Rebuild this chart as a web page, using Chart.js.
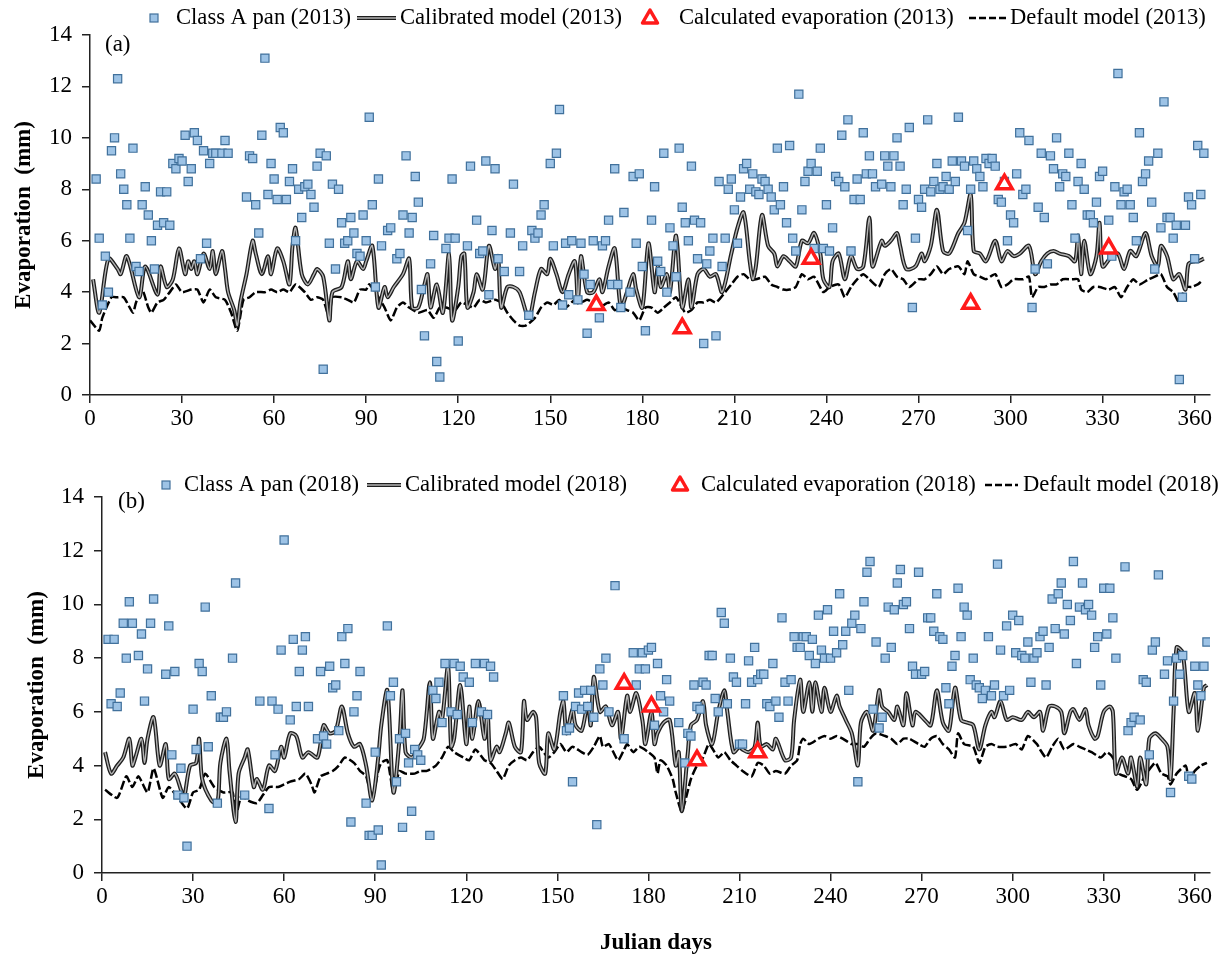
<!DOCTYPE html>
<html>
<head>
<meta charset="utf-8">
<script src="https://cdn.jsdelivr.net/npm/chart.js@4.4.0/dist/chart.umd.min.js"></script>
<style>
  body { margin: 0; background: #fff; }
  #wrap { position: relative; width: 1231px; height: 962px; }
  #wrap canvas { position: absolute; left: 0; }
</style>
</head>
<body>
<div id="wrap">
  <canvas id="chart-a" width="1231" height="445" style="top:0px"></canvas>
  <canvas id="chart-b" width="1231" height="507" style="top:455px"></canvas>
</div>
<script>
// ---- 2013 : [julian day, evaporation mm] ----
var pan2013 = [[2,8.4],[3,6.1],[4,3.5],[5,5.4],[6,4.0],[7,9.5],[8,10.0],[9,12.3],[10,8.6],[11,8.0],
  [12,7.4],[13,6.1],[14,9.6],[15,5.0],[16,4.8],[17,7.4],[18,8.1],[19,7.0],[20,6.0],[21,4.9],
  [22,6.6],[23,7.9],[24,6.7],[25,7.9],[26,6.6],[27,9.0],[28,8.8],[29,9.2],[30,9.1],[31,10.1],
  [32,8.3],[33,8.8],[34,10.2],[35,9.9],[36,5.3],[37,9.5],[38,5.9],[39,9.0],[40,9.4],[41,9.4],
  [43,9.4],[44,9.9],[45,9.4],[51,7.7],[52,9.3],[53,9.2],[54,7.4],[55,6.3],[56,10.1],[57,13.1],
  [58,7.8],[59,9.0],[60,8.4],[61,7.6],[62,10.4],[63,10.2],[64,7.6],[65,8.3],[66,8.8],[67,6.0],
  [68,8.0],[69,6.9],[70,8.1],[71,8.2],[72,7.8],[73,7.3],[74,8.9],[75,9.4],[76,1.0],[77,9.3],
  [78,5.9],[79,8.2],[80,4.9],[81,8.0],[82,6.7],[83,5.9],[84,6.0],[85,6.9],[86,6.3],[87,5.5],
  [88,5.4],[89,7.0],[90,6.0],[91,10.8],[92,7.4],[93,4.2],[94,8.4],[95,5.8],[97,6.4],[98,6.5],
  [100,5.3],[101,5.5],[102,7.0],[103,9.3],[104,6.3],[105,6.9],[106,8.5],[107,7.5],[108,4.1],[109,2.3],
  [111,5.1],[112,6.2],[113,1.3],[114,0.7],[116,5.7],[117,6.1],[118,8.4],[119,6.1],[120,2.1],[123,5.8],
  [124,8.9],[126,6.8],[127,5.5],[128,5.6],[129,9.1],[130,3.9],[131,6.4],[132,8.8],[133,5.3],[135,4.8],
  [137,6.3],[138,8.2],[140,4.8],[141,5.8],[143,3.1],[144,6.4],[145,6.1],[146,6.3],[147,7.0],[148,7.4],
  [150,9.0],[151,5.8],[152,9.4],[153,11.1],[154,3.5],[155,5.9],[156,3.9],[157,6.0],[159,3.7],[160,5.9],
  [161,4.7],[162,2.4],[163,4.3],[164,6.0],[166,3.0],[167,5.8],[168,6.0],[169,6.8],[170,4.3],[171,8.8],
  [172,4.3],[173,3.4],[174,7.1],[176,4.0],[177,8.5],[178,5.9],[179,8.6],[180,5.0],[181,2.5],[183,6.8],
  [184,8.1],[185,5.2],[186,4.8],[187,9.4],[188,4.0],[189,6.5],[190,5.8],[191,4.6],[192,9.6],[193,7.3],
  [194,6.7],[195,6.0],[196,8.9],[197,6.8],[198,5.3],[199,6.7],[200,2.0],[201,5.1],[202,5.6],[203,6.1],
  [204,2.3],[205,8.3],[206,5.0],[207,6.1],[208,8.0],[209,8.4],[210,7.2],[211,5.9],[212,7.7],[213,8.8],
  [214,9.0],[215,8.0],[216,8.6],[217,7.9],[218,7.8],[219,8.4],[220,8.3],[221,8.0],[222,7.7],[223,7.2],
  [224,9.6],[225,7.4],[226,8.1],[227,6.7],[228,9.7],[229,6.1],[230,5.6],[231,11.7],[232,7.2],[233,8.3],
  [234,8.7],[235,9.0],[236,5.7],[237,8.7],[238,9.6],[239,5.7],[240,7.4],[241,5.6],[242,6.5],[243,8.5],
  [244,8.3],[245,10.1],[246,8.1],[247,10.7],[248,5.6],[249,7.6],[250,8.4],[251,7.6],[252,10.2],[253,8.6],
  [254,9.3],[255,8.6],[256,8.1],[258,8.2],[259,9.3],[260,8.9],[261,8.1],[262,9.3],[263,10.0],[264,8.9],
  [265,7.4],[266,8.0],[267,10.4],[268,3.4],[269,6.1],[270,7.6],[271,7.3],[272,8.0],[273,10.7],[274,7.9],
  [275,8.3],[276,9.0],[277,8.0],[278,8.1],[279,8.5],[280,8.0],[281,9.1],[282,8.3],[283,10.8],[284,9.1],
  [285,8.9],[286,6.4],[287,8.0],[288,9.1],[289,8.8],[290,8.5],[291,8.1],[292,9.2],[293,9.0],[294,9.2],
  [295,8.9],[296,7.6],[297,7.5],[298,8.3],[299,6.0],[300,7.0],[301,6.7],[302,8.6],[303,10.2],[304,7.8],
  [305,8.0],[306,9.9],[307,3.4],[308,4.9],[309,7.3],[310,9.4],[311,6.9],[312,5.1],[313,9.3],[314,8.8],
  [315,10.0],[316,8.1],[317,8.6],[318,8.5],[319,9.4],[320,7.4],[321,6.1],[322,8.3],[323,9.0],[324,8.0],
  [325,7.0],[326,7.0],[327,6.7],[328,7.5],[329,8.5],[330,8.7],[332,6.8],[333,5.4],[334,8.1],[335,12.5],
  [336,7.4],[337,7.9],[338,8.0],[339,7.4],[340,6.9],[341,6.0],[342,10.2],[343,8.3],[344,8.6],[345,9.1],
  [346,7.5],[347,4.9],[348,9.4],[349,6.5],[350,11.4],[351,6.9],[352,6.9],[353,6.1],[354,6.6],[355,0.6],
  [356,3.8],[357,6.6],[358,7.7],[359,7.4],[360,5.3],[361,9.7],[362,7.8],[363,9.4]];

var calibrated2013 = [[1,4.5],[3,3.2],[6,5.3],[9,4.9],[10,4.7],[12,5.4],[16,3.8],[18,5.0],[22,3.9],[23,5.0],
  [25,4.2],[27,4.5],[29,5.7],[31,4.7],[32,5.2],[33,4.9],[34,5.2],[35,4.7],[37,5.5],[39,4.9],
  [40,5.6],[41,4.7],[43,5.6],[44,4.9],[45,4.0],[47,3.3],[48,2.7],[49,3.6],[51,4.7],[53,6.0],
  [54,5.5],[56,4.7],[58,5.4],[59,4.7],[61,5.7],[63,5.2],[65,4.3],[66,5.8],[67,6.5],[69,4.7],
  [71,4.3],[73,4.7],[74,4.9],[76,4.6],[78,2.9],[79,4.0],[82,4.2],[84,5.2],[85,4.5],[87,5.2],
  [89,4.9],[90,5.2],[92,5.8],[94,3.4],[96,4.2],[97,3.8],[99,4.2],[102,4.7],[104,5.3],[105,3.4],
  [107,3.4],[109,4.3],[110,4.7],[111,3.4],[113,4.3],[115,3.2],[117,5.5],[118,2.9],[120,4.2],[121,5.4],
  [122,5.5],[123,3.4],[125,4.0],[126,4.7],[128,4.1],[130,5.8],[132,4.9],[133,5.4],[134,3.4],[136,4.2],
  [138,4.2],[140,4.0],[143,3.0],[145,4.0],[147,4.9],[149,4.7],[150,5.3],[152,4.7],[154,4.0],[156,4.7],
  [158,5.2],[159,3.6],[160,5.4],[162,4.0],[164,4.0],[166,4.5],[167,4.0],[169,5.0],[171,5.7],[173,3.4],
  [175,4.0],[177,4.7],[178,4.1],[180,3.4],[182,5.9],[184,4.0],[185,5.0],[186,4.2],[188,4.7],[189,4.0],
  [191,6.2],[193,3.4],[195,4.5],[196,3.4],[198,4.7],[200,4.9],[202,4.6],[204,4.7],[206,4.0],[209,5.5],
  [211,6.5],[213,7.1],[215,5.2],[216,4.5],[217,5.0],[219,7.0],[221,5.8],[223,5.5],[224,5.0],[226,5.4],
  [228,5.2],[230,5.0],[232,6.0],[234,5.9],[236,6.3],[238,5.5],[239,4.5],[241,4.2],[242,5.2],[244,5.5],
  [246,4.5],[248,5.4],[250,4.9],[252,5.0],[254,6.9],[255,5.0],[258,6.0],[259,5.8],[261,6.0],[263,6.3],
  [264,5.8],[266,4.9],[269,5.0],[271,5.5],[272,5.2],[274,5.8],[276,7.2],[278,5.6],[280,5.5],[283,6.3],
  [285,6.7],[287,7.8],[288,5.6],[290,5.5],[292,5.2],[295,6.0],[297,5.2],[299,5.6],[301,5.4],[303,5.5],
  [306,5.8],[308,4.7],[310,5.2],[312,5.5],[314,5.6],[316,5.5],[319,5.4],[321,5.2],[322,6.2],[323,4.7],
  [324,6.0],[326,4.7],[328,5.4],[329,6.7],[330,5.0],[333,5.4],[335,5.5],[337,4.9],[339,5.6],[341,5.4],
  [344,6.3],[346,5.4],[348,5.0],[349,5.8],[351,5.4],[353,4.5],[355,4.7],[357,4.1],[358,5.1],[360,5.2],
  [361,5.2],[363,5.3]];

var default2013 = [[0,2.9],[3,2.5],[4,3.0],[7,3.8],[9,3.8],[11,3.8],[14,3.2],[15,3.6],[17,4.1],[19,3.4],
  [20,3.2],[22,3.6],[24,3.7],[26,4.0],[28,4.3],[30,4.0],[33,4.1],[35,4.1],[37,3.6],[39,4.1],
  [41,3.8],[44,3.7],[46,3.2],[48,2.5],[50,3.7],[52,3.8],[54,4.0],[57,4.0],[59,4.1],[61,4.0],
  [63,4.1],[65,4.0],[67,4.3],[70,4.0],[72,3.7],[74,3.8],[76,3.7],[78,3.0],[79,3.8],[82,3.8],
  [84,3.7],[86,3.6],[88,4.1],[90,4.1],[91,4.3],[94,3.8],[96,3.4],[98,2.9],[100,3.4],[102,3.6],
  [104,3.4],[107,3.2],[110,3.3],[112,3.0],[114,3.4],[116,3.4],[119,3.3],[121,3.6],[123,3.5],[125,3.4],
  [127,3.7],[129,3.6],[132,3.7],[134,3.6],[136,3.2],[138,2.9],[140,2.7],[142,2.7],[145,3.0],[147,3.4],
  [149,3.6],[151,3.5],[153,3.7],[155,3.4],[158,3.7],[160,3.6],[162,3.7],[164,3.6],[166,3.4],[169,3.6],
  [171,3.3],[173,3.4],[175,3.3],[177,3.2],[179,2.9],[181,3.4],[183,3.4],[185,3.2],[187,3.4],[189,3.6],
  [191,3.8],[194,3.2],[196,3.3],[198,3.6],[200,3.6],[202,3.7],[204,3.6],[207,4.0],[209,4.3],[211,4.6],
  [213,4.7],[215,4.5],[217,4.5],[220,4.6],[222,4.3],[224,4.2],[226,4.1],[228,4.1],[230,4.2],[232,4.7],
  [234,4.5],[236,4.6],[239,4.0],[241,4.2],[244,4.3],[246,3.8],[248,4.2],[250,4.5],[252,4.7],[254,4.5],
  [257,4.2],[259,4.7],[261,4.9],[263,4.6],[265,4.5],[267,4.2],[270,4.5],[272,4.5],[274,4.7],[276,5.0],
  [278,4.7],[280,4.9],[283,5.0],[285,4.7],[286,5.2],[288,4.7],[290,4.6],[292,4.5],[295,4.7],[297,4.2],
  [299,4.3],[301,4.5],[304,4.5],[306,4.6],[307,3.8],[309,4.2],[311,4.2],[313,4.3],[315,4.3],[317,4.5],
  [320,4.5],[322,4.5],[323,4.1],[325,4.0],[327,4.2],[329,4.2],[332,4.1],[334,4.2],[336,3.8],[338,4.2],
  [340,4.5],[342,4.3],[345,4.5],[347,4.6],[349,4.7],[351,4.2],[353,4.0],[355,3.6],[357,4.2],[359,4.2],
  [361,4.3],[362,4.4]];

var calculated2013 = [[165,3.5],[193,2.6],[235,5.3],[287,3.55],[298,8.2],[332,5.7]];

// ---- 2018 ----
var pan2018 = [[2,8.7],[3,6.3],[4,8.7],[5,6.2],[6,6.7],[7,9.3],[8,8.0],[9,10.1],[10,9.3],[12,8.1],
  [13,8.9],[14,6.4],[15,7.6],[16,9.3],[17,10.2],[21,7.4],[22,9.2],[23,4.4],[24,7.5],[25,2.9],
  [26,3.9],[27,2.8],[28,1.0],[30,6.1],[31,4.6],[32,7.8],[33,7.5],[34,9.9],[35,4.7],[36,6.6],
  [38,2.6],[39,5.8],[40,5.8],[41,6.0],[43,8.0],[44,10.8],[47,2.9],[52,6.4],[55,2.4],[56,6.4],
  [57,4.4],[58,6.1],[59,8.3],[60,12.4],[62,5.7],[63,8.7],[64,6.2],[65,7.5],[66,8.3],[67,8.8],
  [68,6.2],[71,5.0],[72,7.5],[73,5.1],[74,4.8],[75,7.7],[76,6.9],[77,7.0],[78,5.3],[79,8.8],
  [80,7.8],[81,9.1],[82,1.9],[83,6.0],[84,6.6],[85,7.5],[87,2.6],[88,1.4],[89,1.4],[90,4.5],
  [91,1.6],[92,0.3],[94,9.2],[95,6.6],[96,7.1],[97,3.4],[98,5.0],[99,1.7],[100,5.2],[101,4.1],
  [102,2.3],[103,4.6],[104,4.4],[105,4.2],[108,1.4],[109,6.8],[110,6.5],[111,7.1],[112,5.6],[113,7.8],
  [115,6.0],[116,7.8],[117,5.9],[118,7.7],[119,7.3],[121,7.1],[122,5.6],[123,7.8],[125,6.0],[126,7.8],
  [127,5.9],[128,7.7],[129,7.3],[152,6.6],[153,5.3],[154,5.4],[155,3.4],[156,6.2],[157,6.7],[158,6.1],
  [159,6.8],[160,6.2],[161,6.8],[162,5.8],[163,1.8],[164,7.6],[165,7.0],[166,8.0],[167,6.0],[169,10.7],
  [172,5.0],[175,8.2],[176,7.0],[177,7.6],[178,8.2],[179,7.6],[180,8.3],[181,8.4],[182,5.5],[183,7.8],
  [184,6.6],[185,6.0],[186,7.2],[187,6.4],[190,5.6],[192,4.1],[193,5.2],[194,5.1],[195,7.0],[196,6.2],
  [197,6.1],[198,7.1],[199,7.0],[200,8.1],[201,8.1],[202,6.5],[203,6.0],[204,9.7],[205,9.3],[206,6.3],
  [207,8.0],[208,7.3],[209,7.1],[210,4.8],[211,4.8],[212,6.3],[213,7.9],[214,7.1],[215,8.4],[216,7.2],
  [217,7.4],[218,7.4],[219,6.3],[220,6.2],[221,7.8],[222,6.4],[223,5.8],[224,9.5],[225,7.1],[226,6.4],
  [227,7.2],[228,8.8],[229,8.4],[230,8.4],[231,8.8],[232,8.8],[233,8.1],[234,8.7],[235,7.8],[236,9.6],
  [237,8.3],[238,8.0],[239,9.8],[240,8.0],[241,9.0],[242,8.2],[243,10.4],[244,8.5],[245,9.0],[246,6.8],
  [247,9.3],[248,9.6],[249,3.4],[250,9.1],[251,10.1],[252,11.2],[253,11.6],[254,6.1],[255,8.6],[256,5.4],
  [257,5.8],[258,8.0],[259,9.9],[260,8.4],[261,9.8],[262,10.8],[263,11.3],[264,10.0],[265,10.1],[266,9.1],
  [267,7.7],[268,7.4],[269,11.2],[270,7.4],[271,7.5],[272,9.5],[273,9.5],[274,9.0],[275,10.4],[276,8.8],
  [277,8.7],[278,6.9],[279,6.3],[280,7.7],[281,8.1],[282,10.6],[283,8.8],[284,9.9],[285,9.6],[286,7.2],
  [287,8.0],[288,7.0],[289,6.9],[290,6.5],[291,6.8],[292,8.8],[293,6.6],[294,7.0],[295,11.5],[296,8.3],
  [297,6.6],[298,9.2],[299,6.8],[300,9.6],[301,8.2],[302,9.4],[303,8.1],[304,8.0],[305,8.6],[306,7.1],
  [307,8.0],[308,8.2],[309,8.8],[310,9.0],[311,7.0],[312,8.4],[313,10.2],[314,9.1],[315,10.4],[316,10.8],
  [317,8.9],[318,10.0],[319,9.4],[320,11.6],[321,7.8],[322,9.9],[323,10.8],[324,9.8],[325,10.0],[326,9.6],
  [327,8.4],[328,8.8],[329,7.0],[330,10.6],[331,8.9],[332,10.6],[333,9.5],[334,8.0],[337,11.4],[338,5.3],
  [339,5.6],[340,5.8],[342,5.7],[343,7.2],[344,7.1],[345,4.4],[346,8.3],[347,8.6],[348,11.1],[350,7.4],
  [351,7.9],[352,3.0],[353,6.4],[354,8.0],[355,7.4],[356,8.1],[358,3.6],[359,3.5],[360,7.7],[361,7.0],
  [362,6.6],[363,7.7],[364,8.6]];

var calibrated2018 = [[1,4.5],[3,3.7],[5,4.0],[7,4.3],[9,5.0],[10,4.0],[11,4.3],[13,5.0],[14,4.1],[15,5.0],
  [17,5.8],[19,4.0],[21,4.8],[22,3.5],[24,3.7],[26,3.1],[27,2.8],[29,4.0],[31,4.1],[32,5.0],
  [33,3.5],[36,2.7],[38,2.6],[39,4.1],[41,5.0],[42,3.8],[44,1.9],[45,3.7],[47,4.3],[48,4.6],
  [50,3.2],[51,3.5],[53,3.1],[55,4.0],[57,3.8],[59,4.7],[60,4.3],[62,5.2],[64,5.1],[66,4.3],
  [68,4.5],[71,4.3],[73,5.5],[75,5.2],[77,5.3],[79,6.2],[81,5.2],[83,4.7],[85,4.8],[87,4.0],
  [89,2.7],[91,4.3],[92,5.5],[94,6.8],[96,3.0],[98,5.0],[99,6.8],[100,4.5],[102,4.3],[104,4.6],
  [106,5.0],[108,7.1],[109,5.0],[111,6.0],[112,5.7],[114,7.7],[115,4.7],[116,5.0],[118,7.0],[120,4.8],
  [121,6.2],[122,5.0],[124,6.4],[126,5.0],[127,6.0],[128,4.2],[130,4.7],[131,4.5],[133,5.2],[134,5.6],
  [136,4.7],[138,4.5],[139,6.4],[140,5.7],[142,6.0],[143,5.8],[144,4.1],[146,3.7],[147,5.2],[149,4.6],
  [151,6.0],[152,6.4],[153,5.2],[155,6.1],[156,5.5],[158,5.3],[160,6.3],[161,5.5],[162,7.3],[164,6.0],
  [166,6.2],[168,5.5],[170,6.0],[171,5.0],[173,6.6],[174,6.0],[176,6.7],[178,5.7],[179,4.8],[181,6.0],
  [182,4.8],[183,5.2],[185,5.6],[187,5.7],[189,4.0],[190,4.5],[191,2.3],[193,4.5],[194,5.5],[196,5.7],
  [198,6.4],[199,5.5],[201,4.8],[203,6.0],[205,6.8],[206,6.0],[208,4.5],[210,4.7],[211,4.6],[213,4.5],
  [215,4.7],[216,5.6],[217,4.7],[219,4.8],[221,4.6],[222,5.0],[225,4.2],[227,4.3],[228,5.7],[230,7.2],
  [231,6.0],[233,7.1],[234,6.0],[235,7.1],[237,6.0],[238,6.9],[240,6.0],[242,6.6],[243,6.2],[245,5.7],
  [247,5.2],[249,4.0],[250,5.6],[252,6.0],[254,5.3],[256,6.8],[257,6.2],[259,6.0],[261,5.7],[262,6.2],
  [264,5.5],[265,6.7],[267,5.5],[268,6.0],[271,5.7],[273,5.5],[275,6.8],[277,5.6],[279,5.3],[281,6.9],
  [283,5.7],[285,5.6],[287,5.5],[289,4.6],[291,5.5],[293,6.0],[294,5.8],[296,6.4],[298,5.7],[300,5.8],
  [303,5.7],[305,6.0],[307,5.8],[309,6.0],[310,5.3],[312,6.2],[314,6.2],[316,6.0],[317,5.2],[319,6.0],
  [320,6.1],[322,5.7],[324,6.1],[325,5.5],[327,5.0],[328,5.1],[330,6.0],[332,6.2],[333,6.0],[334,3.7],
  [336,4.3],[338,3.7],[339,4.3],[341,3.2],[342,4.3],[344,3.3],[345,5.0],[347,5.2],[349,5.0],[351,4.7],
  [352,3.5],[353,6.0],[354,8.4],[356,8.2],[358,6.0],[360,6.7],[361,5.3],[363,6.9],[364,7.0]];

var default2018 = [[1,3.1],[5,2.8],[8,3.6],[10,3.2],[12,3.6],[15,3.0],[17,3.9],[20,2.8],[22,3.2],[25,2.8],
  [28,2.4],[30,3.0],[32,3.1],[34,3.7],[37,3.2],[40,3.0],[43,3.0],[44,2.1],[46,2.9],[48,2.7],
  [51,2.6],[53,2.9],[55,3.2],[58,3.2],[60,3.3],[62,3.4],[65,3.5],[67,3.7],[69,3.3],[70,3.0],
  [72,3.6],[74,3.7],[76,3.8],[78,4.0],[80,4.3],[83,4.1],[85,3.8],[87,3.6],[89,2.8],[91,3.8],
  [92,4.1],[94,4.2],[96,3.0],[98,3.8],[100,3.7],[103,3.7],[105,3.8],[107,3.8],[110,4.0],[112,4.3],
  [114,4.7],[116,4.5],[119,4.3],[121,4.2],[123,4.6],[126,4.2],[128,4.1],[130,3.8],[132,3.5],[134,4.0],
  [136,4.2],[138,4.3],[140,4.2],[142,4.5],[144,4.7],[147,4.3],[149,4.5],[151,4.8],[153,4.5],[155,4.7],
  [158,4.5],[160,4.4],[162,4.7],[164,5.1],[165,4.7],[167,4.8],[170,4.2],[172,4.6],[173,4.8],[175,4.5],
  [177,4.7],[180,4.5],[182,4.3],[183,3.7],[184,4.2],[186,4.0],[188,3.5],[189,3.0],[191,2.3],[194,3.5],
  [196,4.0],[198,4.3],[200,4.8],[203,4.3],[205,4.5],[207,4.2],[209,4.0],[211,3.8],[214,3.6],[216,4.1],
  [218,4.0],[220,3.7],[222,3.8],[225,3.7],[227,4.0],[229,4.2],[230,4.8],[231,5.0],[233,4.8],[236,5.0],
  [238,5.1],[240,5.0],[242,5.1],[244,5.0],[247,4.8],[249,4.8],[251,4.7],[253,5.0],[255,5.2],[258,5.1],
  [260,5.0],[262,4.8],[264,5.0],[266,5.0],[269,4.8],[271,4.7],[273,5.0],[275,5.1],[277,4.8],[279,4.6],
  [281,4.3],[282,5.2],[284,4.8],[287,4.7],[289,4.1],[291,4.7],[293,4.8],[295,4.7],[298,4.7],[301,4.8],
  [303,4.6],[305,5.1],[308,4.8],[309,4.6],[311,4.3],[313,4.7],[315,5.0],[317,4.6],[320,4.8],[322,4.7],
  [324,4.6],[326,4.5],[329,4.3],[331,4.5],[333,4.3],[335,3.7],[337,3.6],[339,3.5],[341,3.1],[343,3.5],
  [344,3.7],[347,4.1],[349,3.7],[351,3.6],[352,3.3],[354,3.7],[357,4.0],[358,3.5],[360,3.8],[362,4.0],
  [364,4.1]];

var calculated2018 = [[172,7.05],[181,6.2],[196,4.2],[216,4.5]];

var dayTicks = [0, 30, 60, 90, 120, 150, 180, 210, 240, 270, 300, 330, 360];
var evapTicks = [0, 2, 4, 6, 8, 10, 12, 14];

var serif = '"Liberation Serif", "Times New Roman", serif';
var PAN_FILL = '#9dc3e6', PAN_EDGE = '#41719c', TRI_RED = '#ff1a1a';
var CAL_EDGE = '#1e1e1e', CAL_CORE = '#b4b4b4';

function toPoints(pairs) {
    return pairs.map(function(p) { return { x: p[0], y: p[1] }; });
}

// legend row + (a)/(b) label drawn straight on the canvas
var panelDecor = {
    id: 'panelDecor',
    afterDraw: function(chart, args, o) {
        var ctx = chart.ctx;
        var y = o.y;
        ctx.save();
        ctx.fillStyle = '#000';
        ctx.textBaseline = 'middle';
        ctx.textAlign = 'left';
        ctx.font = '23px ' + serif;
        ctx.fillText(o.label, o.labelX, o.labelY);

        // Class A pan
        ctx.fillStyle = PAN_FILL; ctx.strokeStyle = PAN_EDGE; ctx.lineWidth = 1.2;
        ctx.fillRect(o.square - 4, y - 4, 8, 8);
        ctx.strokeRect(o.square - 4, y - 4, 8, 8);
        // calibrated model (double line)
        ctx.beginPath(); ctx.moveTo(o.calLine[0], y); ctx.lineTo(o.calLine[1], y);
        ctx.strokeStyle = CAL_EDGE; ctx.lineWidth = 4; ctx.stroke();
        ctx.strokeStyle = CAL_CORE; ctx.lineWidth = 1.4; ctx.stroke();
        // calculated evaporation
        ctx.beginPath();
        ctx.moveTo(o.tri, y - 8); ctx.lineTo(o.tri + 7.5, y + 5); ctx.lineTo(o.tri - 7.5, y + 5); ctx.closePath();
        ctx.fillStyle = '#fff'; ctx.fill();
        ctx.strokeStyle = TRI_RED; ctx.lineWidth = 3.5; ctx.lineJoin = 'round'; ctx.stroke();
        // default model
        ctx.beginPath(); ctx.setLineDash([7, 3]);
        ctx.moveTo(o.defLine[0], y); ctx.lineTo(o.defLine[1], y);
        ctx.strokeStyle = '#000'; ctx.lineWidth = 2.5; ctx.stroke();
        ctx.setLineDash([]);

        ctx.fillStyle = '#000';
        ctx.font = '22.6px ' + serif;
        o.texts.forEach(function(t) { ctx.fillText(t[1], t[0], y); });
        ctx.restore();
    }
};

function makePanel(canvasId, p) {
    var calPoints = toPoints(p.cal);
    return new Chart(document.getElementById(canvasId), {
        type: 'scatter',
        data: {
            datasets: [
                {
                    label: 'Calculated evaporation',
                    data: toPoints(p.calc),
                    pointStyle: 'triangle',
                    pointRadius: 9,
                    backgroundColor: '#fff',
                    borderColor: TRI_RED,
                    borderWidth: 3.5,
                    order: 0
                },
                {
                    label: 'Class A pan',
                    data: toPoints(p.pan),
                    pointStyle: 'rect',
                    pointRadius: 5.8,
                    backgroundColor: PAN_FILL,
                    borderColor: PAN_EDGE,
                    borderWidth: 1.2,
                    order: 1
                },
                {
                    label: 'Calibrated model',
                    data: calPoints,
                    showLine: true,
                    borderColor: CAL_CORE,
                    borderWidth: 1.4,
                    pointRadius: 0,
                    tension: 0.3,
                    order: 2
                },
                {
                    label: 'Calibrated model edge',
                    data: calPoints,
                    showLine: true,
                    borderColor: CAL_EDGE,
                    borderWidth: 4,
                    pointRadius: 0,
                    tension: 0.3,
                    order: 3
                },
                {
                    label: 'Default model',
                    data: toPoints(p.def),
                    showLine: true,
                    borderColor: '#000',
                    borderWidth: 2.5,
                    borderDash: [9, 3],
                    pointRadius: 0,
                    tension: 0.2,
                    order: 4
                }
            ]
        },
        options: {
            responsive: false,
            animation: false,
            devicePixelRatio: 1,
            layout: { padding: { left: 0, right: 21, top: p.top, bottom: 0 } },
            plugins: {
                legend: { display: false },
                tooltip: { enabled: false },
                panelDecor: p.decor
            },
            scales: {
                x: {
                    type: 'linear',
                    min: 0,
                    max: 365,
                    afterFit: function(s) { s.height = p.xHeight; },
                    afterBuildTicks: function(s) { s.ticks = dayTicks.map(function(v) { return { value: v }; }); },
                    ticks: { font: { family: serif, size: 23 }, color: '#000', padding: 2, maxRotation: 0 },
                    grid: { display: true, drawOnChartArea: false, drawTicks: true, tickLength: 8, color: '#222', lineWidth: 1.5 },
                    border: { display: true, color: '#222', width: 1.5 },
                    title: {
                        display: p.showXTitle,
                        text: 'Julian days',
                        font: { family: serif, size: 23, weight: 'bold' },
                        color: '#000',
                        padding: { top: 0, bottom: 5 }
                    }
                },
                y: {
                    min: 0,
                    max: 14,
                    afterFit: function(s) { s.width = p.yWidth; },
                    afterBuildTicks: function(s) { s.ticks = evapTicks.map(function(v) { return { value: v }; }); },
                    ticks: { font: { family: serif, size: 23 }, color: '#000', padding: 10 },
                    grid: { display: true, drawOnChartArea: false, drawTicks: true, tickLength: 8, color: '#222', lineWidth: 1.5 },
                    border: { display: true, color: '#222', width: 1.5 },
                    title: {
                        display: true,
                        text: 'Evaporation  (mm)',
                        font: { family: serif, size: 23, weight: 'bold' },
                        color: '#000',
                        padding: { top: p.yTitlePad, bottom: 0 }
                    }
                }
            }
        },
        plugins: [panelDecor]
    });
}

makePanel('chart-a', {
    pan: pan2013, cal: calibrated2013, def: default2013, calc: calculated2013,
    top: 35, xHeight: 50, yWidth: 90, yTitlePad: 10, showXTitle: false,
    decor: {
        y: 18, label: '(a)', labelX: 105, labelY: 45,
        square: 154, calLine: [357, 396], tri: 650, defLine: [969, 1006],
        texts: [[176, 'Class A pan (2013)'], [400, 'Calibrated model (2013)'],
                [679, 'Calculated evaporation (2013)'], [1010, 'Default model (2013)']]
    }
});

makePanel('chart-b', {
    pan: pan2018, cal: calibrated2018, def: default2018, calc: calculated2018,
    top: 42, xHeight: 89, yWidth: 102, yTitlePad: 23, showXTitle: true,
    decor: {
        y: 30, label: '(b)', labelX: 118, labelY: 47,
        square: 166, calLine: [367, 401], tri: 680, defLine: [985, 1018],
        texts: [[184, 'Class A pan (2018)'], [405, 'Calibrated model (2018)'],
                [701, 'Calculated evaporation (2018)'], [1023, 'Default model (2018)']]
    }
});
</script>
</body>
</html>
